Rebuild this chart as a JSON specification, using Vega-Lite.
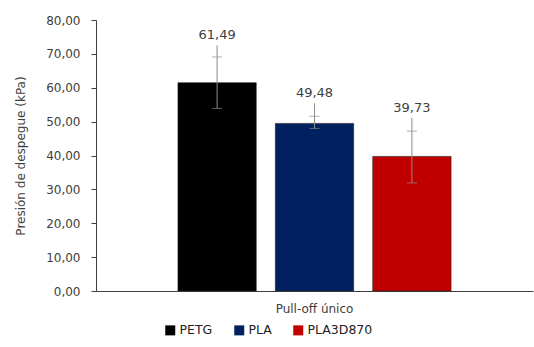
{
  "$schema": "https://vega.github.io/schema/vega-lite/v6.json",
  "width": 437,
  "height": 271,
  "padding": {"left": 14, "top": 14, "right": 1, "bottom": 5},
  "background": "white",
  "config": {
    "locale": {"number": {"decimal": ",", "thousands": ".", "grouping": [3], "currency": ["", " €"]}},
    "view": {"stroke": null},
    "font": "DejaVu Sans",
    "axisY": {
      "titleFontSize": 12, "titleFontWeight": "normal", "titleColor": "#404040", "titlePadding": 18,
      "labelOverlap": false, "grid": false, "tickSize": 5, "tickColor": "#404040", "domainColor": "#404040",
      "labelFontSize": 12, "labelColor": "#404040", "labelPadding": 11
    }
  },
  "data": {
    "values": [
      {"grupo": "Pull-off único", "material": "PETG", "value": 61.49, "lo": 53.9, "hi": 69.1, "top": 72.5},
      {"grupo": "Pull-off único", "material": "PLA", "value": 49.48, "lo": 48.0, "hi": 51.6, "top": 55.4},
      {"grupo": "Pull-off único", "material": "PLA3D870", "value": 39.73, "lo": 31.9, "hi": 47.2, "top": 51.1}
    ]
  },
  "encoding": {
    "x": {
      "field": "grupo", "type": "nominal",
      "scale": {"paddingInner": 0, "paddingOuter": 0.3},
      "axis": {"title": null, "ticks": false, "labelAngle": 0, "labelPadding": 12, "labelFontSize": 12, "labelColor": "#404040", "domainColor": "#404040", "domainWidth": 1}
    },
    "xOffset": {"field": "material", "type": "nominal", "scale": {"paddingInner": 0.196, "paddingOuter": 0}}
  },
  "layer": [
    {
      "mark": {"type": "bar", "stroke": "#222222", "strokeWidth": 0.6},
      "encoding": {
        "y": {
          "field": "value", "type": "quantitative",
          "scale": {"domain": [0, 80], "nice": false},
          "axis": {"title": "Presión de despegue (kPa)", "values": [0, 10, 20, 30, 40, 50, 60, 70, 80], "tickCount": 9, "format": ".2f"}
        },
        "color": {
          "field": "material", "type": "nominal",
          "scale": {"domain": ["PETG", "PLA", "PLA3D870"], "range": ["#000000", "#002060", "#C00000"]},
          "legend": {
            "title": null, "orient": "none", "direction": "horizontal", "legendX": 68, "legendY": 304,
            "symbolType": "square", "symbolSize": 100, "symbolStrokeWidth": 0,
            "labelFontSize": 12.5, "labelColor": "#222222", "columnPadding": 20, "labelOffset": 3
          }
        }
      }
    },
    {
      "mark": {"type": "rule", "color": "#8c8c8c", "strokeWidth": 1},
      "encoding": {
        "y": {"field": "lo", "type": "quantitative", "axis": {"title": "Presión de despegue (kPa)", "values": [0, 10, 20, 30, 40, 50, 60, 70, 80], "tickCount": 9, "format": ".2f"}},
        "y2": {"field": "top"}
      }
    },
    {
      "mark": {"type": "tick", "color": "#8c8c8c", "thickness": 1, "size": 10, "orient": "horizontal"},
      "encoding": {"y": {"field": "lo", "type": "quantitative", "axis": {"title": "Presión de despegue (kPa)", "values": [0, 10, 20, 30, 40, 50, 60, 70, 80], "tickCount": 9, "format": ".2f"}}}
    },
    {
      "mark": {"type": "tick", "color": "#8c8c8c", "thickness": 1, "size": 10, "orient": "horizontal"},
      "encoding": {"y": {"field": "hi", "type": "quantitative", "axis": {"title": "Presión de despegue (kPa)", "values": [0, 10, 20, 30, 40, 50, 60, 70, 80], "tickCount": 9, "format": ".2f"}}}
    },
    {
      "mark": {"type": "text", "dy": -10, "baseline": "middle", "fontSize": 13, "color": "#404040"},
      "encoding": {
        "y": {"field": "top", "type": "quantitative", "axis": {"title": "Presión de despegue (kPa)", "values": [0, 10, 20, 30, 40, 50, 60, 70, 80], "tickCount": 9, "format": ".2f"}},
        "text": {"field": "value", "type": "quantitative", "format": ".2f"}
      }
    }
  ]
}
